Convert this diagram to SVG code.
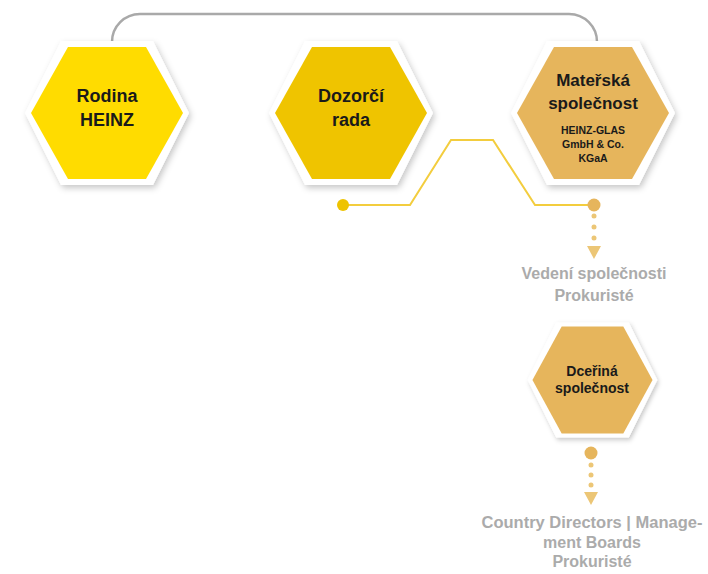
<svg xmlns="http://www.w3.org/2000/svg" xmlns:xlink="http://www.w3.org/1999/xlink" width="708" height="574" viewBox="0 0 708 574">
  <style>
    .lbl { font-family: "Liberation Sans", Arial, sans-serif; font-weight: bold; fill: #1a1a1a; text-anchor: middle; }
    .gray { font-family: "Liberation Sans", Arial, sans-serif; font-weight: bold; fill: #ababab; text-anchor: middle; font-size: 16px; }
    .outer { fill: #ffffff; filter: url(#sh); }
  </style>
  <defs>
    <filter id="sh" x="-20%" y="-20%" width="140%" height="140%">
      <feDropShadow dx="2" dy="3" stdDeviation="3" flood-color="#000" flood-opacity="0.22"/>
    </filter>
    <polygon id="hexOut" points="-82,0 -46,-72 46,-72 82,0 46,72 -46,72"/>
    <polygon id="hexIn" points="-76,0 -39,-66 39,-66 76,0 39,66 -39,66"/>
  </defs>

  <g id="connectors">
    <path d="M112,42 A28,28 0 0 1 140,14 H569 A28,28 0 0 1 597,42" fill="none" stroke="#a9a9a9" stroke-width="2.5"/>
    <polyline points="343,205 410,205 451,140 493,140 535,205 594,205" fill="none" stroke="#f3cd3e" stroke-width="2"/>
    <circle cx="343" cy="205" r="6" fill="#eec300"/>
    <circle cx="594" cy="205" r="6.5" fill="#e6b55c"/>
    <g fill="#ecc676">
      <circle cx="594" cy="216" r="2.5"/>
      <circle cx="594" cy="227" r="2.5"/>
      <circle cx="594" cy="238" r="2.5"/>
      <polygon points="587,246 601,246 594,259"/>
    </g>
    <circle cx="591" cy="453" r="6.5" fill="#e6b55c"/>
    <g fill="#ecc676">
      <circle cx="591" cy="465" r="2.5"/>
      <circle cx="591" cy="475" r="2.5"/>
      <circle cx="591" cy="485" r="2.5"/>
      <polygon points="584,492 598,492 591,505"/>
    </g>
  </g>

  <g id="rodina-heinz">
    <use xlink:href="#hexOut" href="#hexOut" class="outer" transform="translate(107,113)"/>
    <use xlink:href="#hexIn" href="#hexIn" transform="translate(107,113)" fill="#ffdc00"/>
    <text class="lbl" font-size="18" x="107" y="102">Rodina</text>
    <text class="lbl" font-size="18" x="107" y="126">HEINZ</text>
  </g>

  <g id="dozorci-rada">
    <use xlink:href="#hexOut" href="#hexOut" class="outer" transform="translate(351,113)"/>
    <use xlink:href="#hexIn" href="#hexIn" transform="translate(351,113)" fill="#efc400"/>
    <text class="lbl" font-size="18" x="351" y="102">Dozorčí</text>
    <text class="lbl" font-size="18" x="351" y="126">rada</text>
  </g>

  <g id="materska-spolecnost">
    <use xlink:href="#hexOut" href="#hexOut" class="outer" transform="translate(593,113)"/>
    <use xlink:href="#hexIn" href="#hexIn" transform="translate(593,113)" fill="#e6b55c"/>
    <text class="lbl" font-size="17" x="593" y="86">Mateřská</text>
    <text class="lbl" font-size="17" x="593" y="109">společnost</text>
    <text class="lbl" font-size="10.5" x="593" y="134">HEINZ-GLAS</text>
    <text class="lbl" font-size="10.5" x="593" y="148">GmbH &amp; Co.</text>
    <text class="lbl" font-size="10.5" x="593" y="162">KGaA</text>
  </g>

  <g id="vedeni">
    <text class="gray" x="594" y="279">Vedení společnosti</text>
    <text class="gray" x="594" y="301">Prokuristé</text>
  </g>

  <g id="dcerina-spolecnost">
    <use xlink:href="#hexOut" href="#hexOut" class="outer" transform="translate(592.5,380) scale(0.79,0.8)"/>
    <use xlink:href="#hexIn" href="#hexIn" transform="translate(592.5,380) scale(0.79,0.81)" fill="#e6b55c"/>
    <text class="lbl" font-size="14" x="592" y="376">Dceřiná</text>
    <text class="lbl" font-size="14" x="592" y="393">společnost</text>
  </g>

  <g id="country-directors">
    <text class="gray" style="font-size:16.5px" x="592" y="528">Country Directors | Manage-</text>
    <text class="gray" x="592" y="548">ment Boards</text>
    <text class="gray" x="592" y="567">Prokuristé</text>
  </g>
</svg>
